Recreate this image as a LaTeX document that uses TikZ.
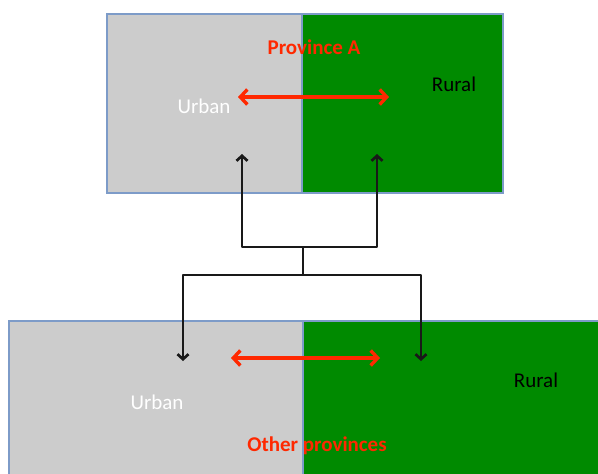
\documentclass[tikz,border=0pt]{standalone}
\usepackage{fontspec}
\setmainfont{Carlito}
\usetikzlibrary{arrows.meta}

\definecolor{urbangrey}{RGB}{204,204,204}
\definecolor{ruralgreen}{RGB}{0,138,0}
\definecolor{edgeblue}{RGB}{125,155,200}
\definecolor{flowred}{RGB}{255,40,0}

\begin{document}
\begin{tikzpicture}[x=1pt,y=-1pt]
        \tikzstyle{half}=[draw=edgeblue, line width=1.5pt, anchor=north west,
            inner sep=0pt, outer sep=0pt]
        \tikzstyle{urban half}=[half, fill=urbangrey];
        \tikzstyle{rural half}=[half, fill=ruralgreen];
        \tikzstyle{lbl}=[font=\fontsize{21}{24}\selectfont, inner sep=1pt]
        \tikzstyle{title}=[lbl, font=\fontsize{21}{24}\selectfont\bfseries, text=flowred]
        \tikzstyle{exchange}=[flowred, line width=3.4pt,
            {Straight Barb[length=7pt,width=15pt]}-{Straight Barb[length=7pt,width=15pt]}]
        \tikzstyle{link}=[black!90, line width=2.7pt, line join=round]
        \tikzstyle{move}=[link, -{Straight Barb[length=5pt,width=11pt]}]

        \useasboundingbox (0,0) rectangle (598,474);
        \clip (0,0) rectangle (598,474);

        % Draw province A (top)
        \node[urban half, minimum width=195pt, minimum height=179pt]
            (UA) at (107,14) {};
        \node[rural half, minimum width=201pt, minimum height=179pt]
            (RA) at (302,14) {};

        % Draw the other provinces (bottom, cut by the page)
        \node[urban half, minimum width=294pt, minimum height=170pt]
            (UB) at (9,321) {};
        \node[rural half, minimum width=310pt, minimum height=170pt]
            (RB) at (303,321) {};

        % Labels
        \node[title] (tA) at (314,47) {Province A};
        \node[lbl, text=white] (uA) at (204,106) {Urban};
        \node[lbl] (rA) at (454,84) {Rural};
        \node[lbl, text=white] (uB) at (157,402) {Urban};
        \node[lbl] (rB) at (536,380) {Rural};
        \node[title] (tB) at (317,446) {Other provinces};

        % Arrow ends
        \coordinate (xA1) at (238,97);
        \coordinate (xA2) at (389,97);
        \coordinate (xB1) at (231,358);
        \coordinate (xB2) at (380,358);
        \coordinate (up1) at (242,154);
        \coordinate (up2) at (377,154);
        \coordinate (dn1) at (183,361);
        \coordinate (dn2) at (421,361);
        \coordinate (j1) at (303,247);
        \coordinate (j2) at (303,275);

        % Exchange between urban and rural
        \draw[exchange] (xA1) -- (xA2);
        \draw[exchange] (xB1) -- (xB2);

        % Flows between the provinces
        \draw[link] (j1) -- (j2);
        \draw[move] (j1) -| (up1);
        \draw[move] (j1) -| (up2);
        \draw[move] (j2) -| (dn1);
        \draw[move] (j2) -| (dn2);
    \end{tikzpicture}
\end{document}
